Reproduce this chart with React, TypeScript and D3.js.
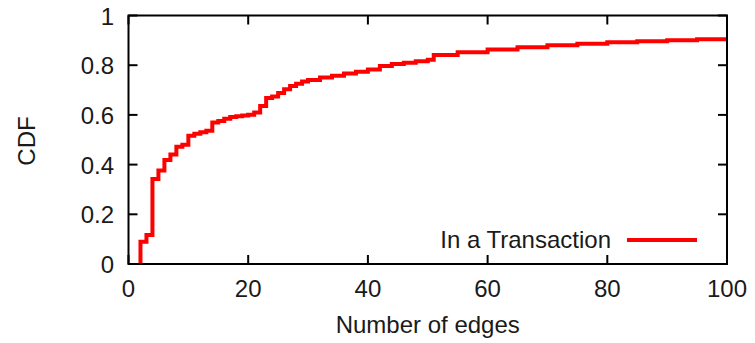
import React, { useEffect, useRef } from 'react';
import * as d3 from 'd3';

// Number of edges (x) and cumulative fraction (y)
const edges = [2, 2, 3, 4, 5, 6, 7, 8, 9, 10, 11, 12, 13, 14, 15, 16, 17, 18, 19, 20, 21, 22, 23, 24, 25, 26, 27, 28, 29, 30, 32, 34, 36, 38, 40, 42, 44, 46, 48, 50, 51, 55, 60, 65, 70, 75, 80, 85, 90, 95, 100];
const cdf = [0, 0.09, 0.117, 0.342, 0.376, 0.419, 0.441, 0.472, 0.48, 0.516, 0.524, 0.53, 0.536, 0.569, 0.575, 0.585, 0.592, 0.595, 0.598, 0.601, 0.61, 0.636, 0.668, 0.674, 0.688, 0.703, 0.716, 0.725, 0.734, 0.74, 0.751, 0.758, 0.767, 0.774, 0.783, 0.797, 0.805, 0.81, 0.816, 0.822, 0.841, 0.852, 0.863, 0.872, 0.88, 0.886, 0.892, 0.896, 0.9, 0.904, 0.91];

const xTicks = [0, 20, 40, 60, 80, 100];
const yTicks = [0, 0.2, 0.4, 0.6, 0.8, 1];
const seriesName = 'In a Transaction';

const W = 755;
const H = 343;

const App = () => {
  const svgRef = useRef(null);

  useEffect(() => {
    const svg = d3.select(svgRef.current);
    svg.selectAll('*').remove();

    const left = 128.5, right = 727, top = 15.5, bottom = 264;
    const x = d3.scaleLinear().domain([0, 100]).range([left, right]);
    const y = d3.scaleLinear().domain([0, 1]).range([bottom, top]);

    const font = '"Liberation Sans", Arial, Helvetica, sans-serif';
    const textColor = '#1a1a1a';
    const tickLen = 9;

    // clip so the curve stays inside the frame
    svg.append('clipPath').attr('id', 'plot-clip')
      .append('rect')
      .attr('x', left).attr('y', top)
      .attr('width', right - left).attr('height', bottom - top);

    // step curve
    const data = edges.map((e, i) => [e, cdf[i]]);
    const line = d3.line()
      .x(d => x(d[0]))
      .y(d => y(d[1]))
      .curve(d3.curveStepAfter);

    svg.append('path')
      .datum(data)
      .attr('clip-path', 'url(#plot-clip)')
      .attr('fill', 'none')
      .attr('stroke', '#f00')
      .attr('stroke-width', 4)
      .attr('stroke-linejoin', 'miter')
      .attr('d', line);

    // ticks on all four sides (gnuplot mirror style)
    const ticks = svg.append('g').attr('stroke', '#000').attr('stroke-width', 2);
    xTicks.forEach(t => {
      ticks.append('line').attr('x1', x(t)).attr('x2', x(t)).attr('y1', bottom).attr('y2', bottom - tickLen);
      ticks.append('line').attr('x1', x(t)).attr('x2', x(t)).attr('y1', top).attr('y2', top + tickLen);
    });
    yTicks.forEach(t => {
      ticks.append('line').attr('x1', left).attr('x2', left + tickLen).attr('y1', y(t)).attr('y2', y(t));
      ticks.append('line').attr('x1', right).attr('x2', right - tickLen).attr('y1', y(t)).attr('y2', y(t));
    });

    // frame
    svg.append('rect')
      .attr('x', left).attr('y', top)
      .attr('width', right - left).attr('height', bottom - top)
      .attr('fill', 'none')
      .attr('stroke', '#000')
      .attr('stroke-width', 2);

    // tick labels
    svg.append('g').selectAll('text')
      .data(xTicks)
      .enter()
      .append('text')
      .attr('x', d => x(d))
      .attr('y', 297)
      .attr('text-anchor', 'middle')
      .style('font-family', font)
      .style('font-size', '24px')
      .style('fill', textColor)
      .text(d => d);

    svg.append('g').selectAll('text')
      .data(yTicks)
      .enter()
      .append('text')
      .attr('x', 114)
      .attr('y', d => y(d) + 9)
      .attr('text-anchor', 'end')
      .style('font-family', font)
      .style('font-size', '24px')
      .style('fill', textColor)
      .text(d => d);

    // axis titles
    svg.append('text')
      .attr('x', (left + right) / 2)
      .attr('y', 333)
      .attr('text-anchor', 'middle')
      .style('font-family', font)
      .style('font-size', '24px')
      .style('fill', textColor)
      .text('Number of edges');

    svg.append('text')
      .attr('transform', 'translate(35,141) rotate(-90)')
      .attr('text-anchor', 'middle')
      .style('font-family', font)
      .style('font-size', '24px')
      .style('fill', textColor)
      .text('CDF');

    // key
    svg.append('text')
      .attr('x', 611)
      .attr('y', 248)
      .attr('text-anchor', 'end')
      .style('font-family', font)
      .style('font-size', '24px')
      .style('fill', textColor)
      .text(seriesName);

    svg.append('line')
      .attr('x1', 627).attr('x2', 697)
      .attr('y1', 240).attr('y2', 240)
      .attr('stroke', '#f00')
      .attr('stroke-width', 4);
  }, []);

  return (
    <svg
      ref={svgRef}
      width={W}
      height={H}
      style={{ position: 'fixed', left: 0, top: 0, background: '#fff' }}
    />
  );
};

export default App;
